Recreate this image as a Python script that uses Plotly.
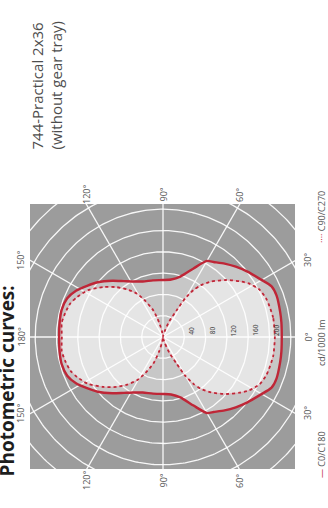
import numpy as np
import plotly.graph_objects as go

# Luminous intensity distribution, cd/1000 lm, against gamma angle (deg)
# C0/C180 plane (solid line)
gamma_c0 = [0, 7, 12, 20, 25, 31, 38, 44, 50, 56, 60, 66, 74, 82, 90,
            100, 110, 118, 125, 132, 140, 146, 152, 158, 165, 172, 180]
cd_c0 = [223, 224, 225, 227, 225, 212, 200, 190, 180, 170, 165, 141, 118, 109, 107,
         108, 111, 118, 128, 142, 160, 172, 185, 194, 197, 196, 195]

# C90/C270 plane (dotted line)
gamma_c90 = [0, 10, 20, 26, 32, 36, 42, 49, 54, 57, 60, 63, 68, 73, 80, 90,
             100, 105, 110, 116, 121, 127, 133, 140, 148, 155, 160, 166, 172, 180]
cd_c90 = [210, 210, 207, 202, 190, 178, 160, 138, 120, 105, 85, 56, 32, 13, 4, 0,
          10, 28, 53, 75, 95, 112, 128, 146, 166, 178, 185, 189, 192, 190]

ring_values = [40, 80, 120, 160, 200, 240, 280, 320]
ring_labels = ["40", "80", "120", "160", "200"]
spoke_angles = list(range(0, 360, 30))
angle_labels = {0: "0°", 30: "30°", 60: "60°", 90: "90°",
                120: "120°", 150: "150°", 180: "180°"}

# Page geometry (pixels)
W, H = 328, 508
PL, PR, PT, PB = 30, 295, 204, 469
CX, CY = 163, 337
SCALE = 0.5325  # px per cd

x_range = [-(CX - PL) / SCALE, (PR - CX) / SCALE]
y_range = [-(PB - CY) / SCALE, (CY - PT) / SCALE]

RED = "#bf2637"
BG = "#9c9c9c"
TXT = "#555555"


def outline(gamma, values):
    g = np.radians(np.asarray(gamma, float))
    v = np.asarray(values, float)
    x = np.concatenate([v * np.cos(g), (v * np.cos(g))[::-1][1:]])
    y = np.concatenate([v * np.sin(g), (-v * np.sin(g))[::-1][1:]])
    return x, y


def px(xp, yp):
    """pixel position -> paper coordinates of the plot area"""
    return (xp - PL) / (PR - PL), (PB - yp) / (PB - PT)


fig = go.Figure()

x0, y0 = outline(gamma_c0, cd_c0)
x9, y9 = outline(gamma_c90, cd_c90)

# filled areas
fig.add_trace(go.Scatter(x=x0, y=y0, mode="lines", fill="toself",
                         fillcolor="#c7c7c7", line=dict(width=0, shape="spline", smoothing=0.6),
                         hoverinfo="skip", showlegend=False))
fig.add_trace(go.Scatter(x=x9, y=y9, mode="lines", fill="toself",
                         fillcolor="#e5e5e5", line=dict(width=0, shape="spline", smoothing=0.6),
                         hoverinfo="skip", showlegend=False))

# polar grid: rings and spokes
t = np.linspace(0, 2 * np.pi, 361)
for r in ring_values:
    fig.add_trace(go.Scatter(x=r * np.cos(t), y=r * np.sin(t), mode="lines",
                             line=dict(color="rgba(255,255,255,0.92)", width=1.3),
                             hoverinfo="skip", showlegend=False))
for a in spoke_angles:
    ar = np.radians(a)
    fig.add_trace(go.Scatter(x=[0, 420 * np.cos(ar)], y=[0, 420 * np.sin(ar)], mode="lines",
                             line=dict(color="rgba(255,255,255,0.92)", width=1.3),
                             hoverinfo="skip", showlegend=False))

# curves
fig.add_trace(go.Scatter(x=x9, y=y9, mode="lines",
                         line=dict(color="rgba(235,160,170,0.8)", width=1, shape="spline", smoothing=0.6),
                         hoverinfo="skip", showlegend=False))
fig.add_trace(go.Scatter(x=x9, y=y9, mode="lines", name="C90/C270",
                         line=dict(color=RED, width=1.8, dash="dot", shape="spline", smoothing=0.6),
                         showlegend=False))
fig.add_trace(go.Scatter(x=x0, y=y0, mode="lines", name="C0/C180",
                         line=dict(color=RED, width=2.4, shape="spline", smoothing=0.6),
                         showlegend=False))

annotations = []

# ring value labels along the 0° spoke
for v, lab in zip(ring_values, ring_labels):
    annotations.append(dict(x=v + 13, y=12, xref="x", yref="y", text=lab, showarrow=False,
                            textangle=-90, font=dict(size=6.5, color="#333333", family="Open Sans")))

# angle labels where the spokes leave the frame
hw, hh = (PR - PL) / 2, (PB - PT) / 2
for a in spoke_angles:
    base = a if a <= 180 else 360 - a
    if base not in angle_labels:
        continue
    ar = np.radians(a)
    dx, dy = np.cos(ar), -np.sin(ar)
    tx = hw / abs(dx) if abs(dx) > 1e-9 else np.inf
    ty = hh / abs(dy) if abs(dy) > 1e-9 else np.inf
    tt = min(tx, ty)
    ex, ey = CX + dx * tt, CY + dy * tt
    if tx < ty:
        ex += 10 * np.sign(dx) + (2 if dx > 0 else 0)
    else:
        ey += 10 * np.sign(dy) + (1 if dy > 0 else 0)
    xp, yp = px(ex, ey)
    annotations.append(dict(x=xp, y=yp, xref="paper", yref="paper", text=angle_labels[base],
                            showarrow=False, textangle=-90, xanchor="center", yanchor="middle",
                            font=dict(size=9, color=TXT, family="Open Sans")))

# legend entries
for text, cy in [(f'<span style="color:{RED}">—</span> C0/C180', 455),
                 ("cd/1000 lm", 343),
                 (f'<span style="color:{RED}">····</span> C90/C270', 217)]:
    xp, yp = px(321, cy)
    annotations.append(dict(x=xp, y=yp, xref="paper", yref="paper", text=text, showarrow=False,
                            textangle=-90, xanchor="center", yanchor="middle",
                            font=dict(size=9, color=TXT, family="Open Sans")))

# headings
xp, yp = px(6, 284)
annotations.append(dict(x=xp, y=yp, xref="paper", yref="paper", text="<b>Photometric curves:</b>",
                        showarrow=False, textangle=-90, xanchor="center", yanchor="top",
                        font=dict(size=19, color="#1e1e1e", family="Open Sans")))
xp, yp = px(46, 152)
annotations.append(dict(x=xp, y=yp, xref="paper", yref="paper",
                        text="744-Practical 2x36<br>(without gear tray)", align="left",
                        showarrow=False, textangle=-90, xanchor="center", yanchor="bottom",
                        font=dict(size=15, color="#4d4d4d", family="Open Sans")))

fig.update_layout(
    width=W, height=H,
    margin=dict(l=PL, r=W - PR, t=PT, b=H - PB, pad=0),
    paper_bgcolor="white", plot_bgcolor=BG,
    xaxis=dict(range=x_range, visible=False, fixedrange=True),
    yaxis=dict(range=y_range, visible=False, fixedrange=True),
    annotations=annotations,
    showlegend=False,
)

fig.write_html("out.html")
